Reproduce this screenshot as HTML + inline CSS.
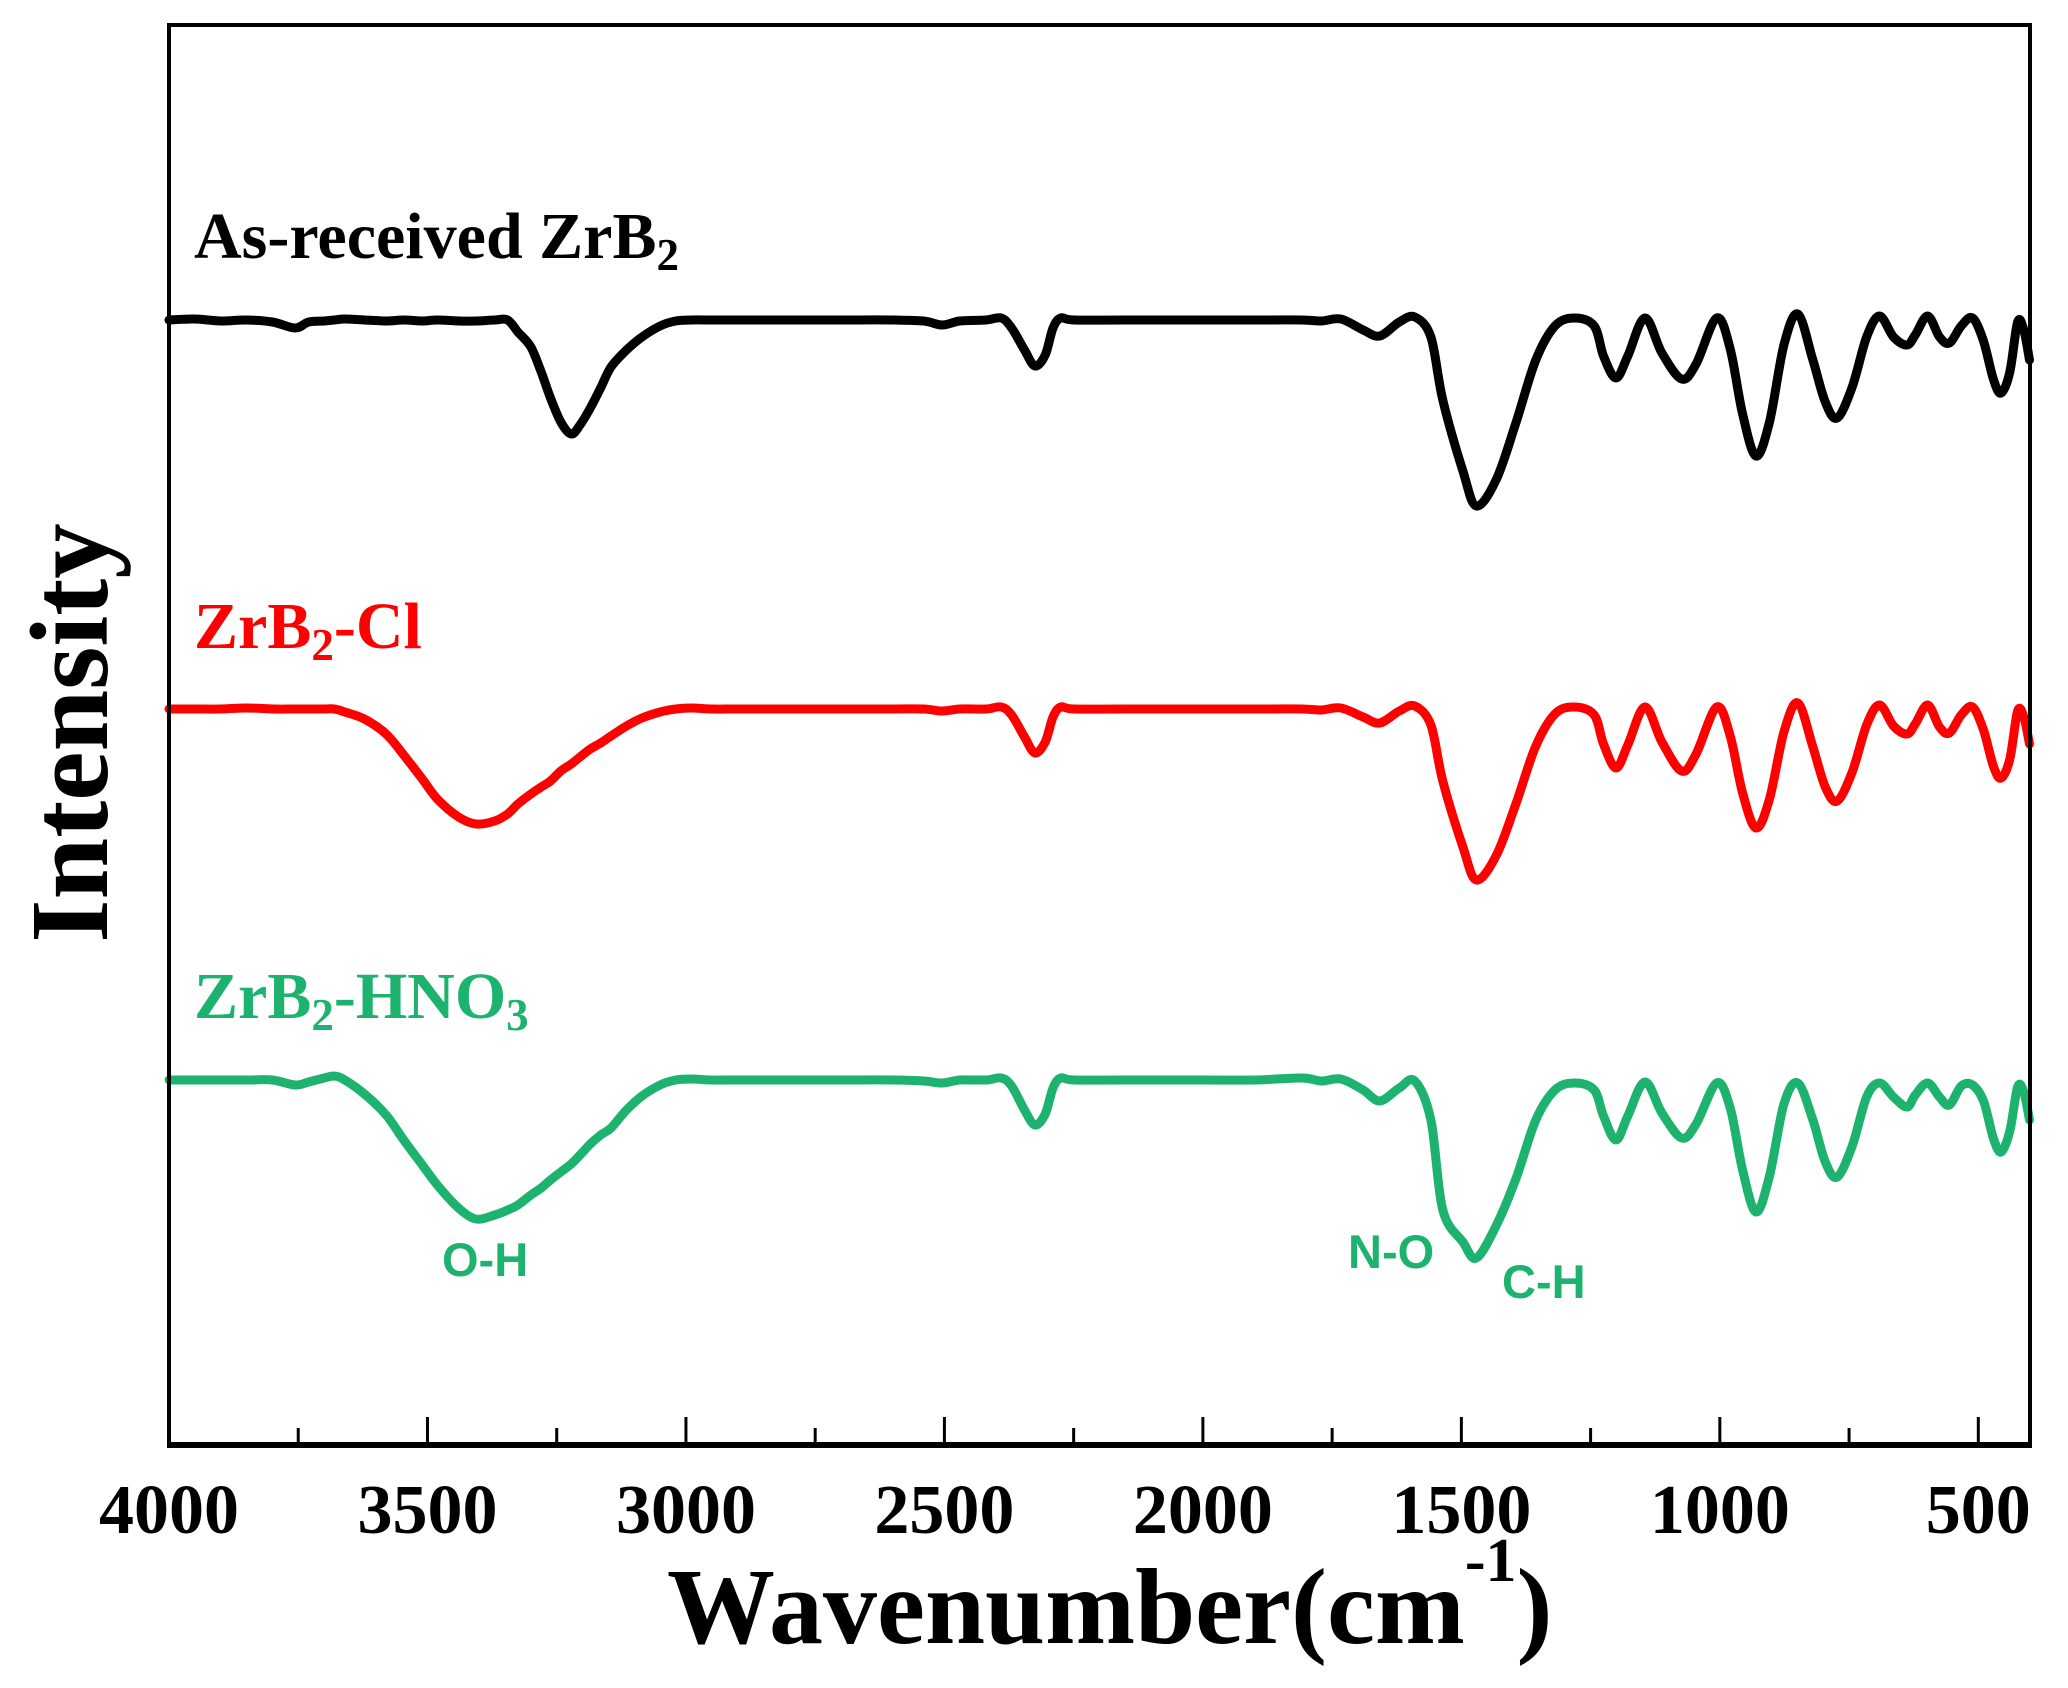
<!DOCTYPE html>
<html>
<head>
<meta charset="utf-8">
<style>
  html, body { margin: 0; padding: 0; background: #fff; }
  svg { display: block; }
  .tick-label { font-family: "Liberation Serif", serif; font-weight: bold; font-size: 70px; fill: #000; }
  .axis-title { font-family: "Liberation Serif", serif; font-weight: bold; fill: #000; }
  .series-label { font-family: "Liberation Serif", serif; font-weight: bold; font-size: 66px; }
  .band-label { font-family: "Liberation Sans", "DejaVu Sans", sans-serif; font-weight: bold; font-size: 47px; fill: #1db36e; }
</style>
</head>
<body>
<svg id="chart" width="2068" height="1688" viewBox="0 0 2068 1688" xmlns="http://www.w3.org/2000/svg">
  <g id="series-layer"></g>
  <g id="axis-layer"></g>

  <text class="series-label" x="194" y="258" fill="#000">As-received ZrB<tspan dy="12" font-size="45">2</tspan></text>
  <text class="series-label" x="194" y="648" fill="#ff0000">ZrB<tspan dy="12" font-size="45">2</tspan><tspan dy="-12">-Cl</tspan></text>
  <text class="series-label" x="194" y="1018" fill="#1db36e">ZrB<tspan dy="12" font-size="45">2</tspan><tspan dy="-12">-HNO</tspan><tspan dy="12" font-size="45">3</tspan></text>

  <text class="band-label" x="442" y="1276">O-H</text>
  <text class="band-label" x="1348" y="1268">N-O</text>
  <text class="band-label" x="1502" y="1298">C-H</text>

  <text class="axis-title" font-size="111" transform="translate(107,733) rotate(-90)" text-anchor="middle">Intensity</text>
  <text class="axis-title" font-size="108" x="667" y="1643">Wavenumber(cm<tspan font-size="62" dy="-62">-1</tspan><tspan dy="62">)</tspan></text>
</svg>
<script>
// ---- data ----
const wavenumbers = [4000,3950,3900,3850,3800,3756,3730,3700,3680,3660,3622,3580,3546,3510,3481,3440,3406,3370,3345,3325,3300,3280,3262,3242,3222,3205,3185,3165,3145,3115,3085,3050,3020,2990,2950,2900,2800,2700,2600,2540,2504,2470,2420,2390,2370,2345,2325,2305,2290,2275,2250,2150,2000,1900,1808,1771,1733,1690,1658,1620,1590,1559,1536,1497,1471,1432,1394,1356,1319,1281,1243,1225,1201,1178,1145,1112,1074,1046,1006,980,956,930,904,876,849,820,796,773,744,716,691,664,638,622,598,575,556,533,511,490,471,456,439,424,412,401];
const asReceived = [0,-1,1,0,2,8,2,1,0,-1,0,1,0,1,0,1,1,0,0,12,27,52,78,102,114,105,88,68,47,30,17,6,1,0,0,0,0,0,0,1,5,1,0,-2,8,30,46,35,8,-2,0,0,0,0,0,1,-1,10,16,2,-3,17,80,151,186,159,102,40,6,-2,6,36,58,36,-2,33,59,44,-2,29,94,136,102,25,-6,40,82,98,67,17,-4,17,25,15,-4,17,23,6,-2,21,59,73,52,2,10,40];
const zrb2Cl = [0,0,0,-1,0,0,0,0,0,3,10,25,46,70,90,108,115,112,105,95,85,78,72,62,55,48,40,34,27,17,9,3,0,-1,0,0,0,0,0,0,2,0,0,-2,6,28,44,33,8,-2,0,0,0,0,0,1,-1,8,14,2,-3,16,72,138,171,146,94,37,5,-2,6,35,59,36,-2,33,62,45,-2,27,84,119,90,23,-6,38,78,92,63,16,-4,17,25,15,-4,18,24,6,-2,21,57,69,50,2,8,35];
const zrb2Hno3 = [0,0,0,0,0,5,2,-2,-4,0,14,35,60,85,105,128,139,135,130,125,115,108,100,92,84,75,64,55,48,30,16,5,0,-1,0,0,0,0,0,1,3,0,0,-2,6,30,45,34,8,-2,0,0,0,0,-2,1,-1,10,21,8,1,40,130,162,178,145,98,40,10,3,10,36,60,36,2,33,58,44,3,28,90,132,96,24,3,40,82,97,66,17,3,17,27,15,3,17,25,6,5,21,58,72,51,7,12,40];
const tickValues = [4000,3500,3000,2500,2000,1500,1000,500];
const minorTickValues = [3750,3250,2750,2250,1750,1250,750];
const tickLabels = ["4000","3500","3000","2500","2000","1500","1000","500"];

// ---- layout ----
const NS = "http://www.w3.org/2000/svg";
const plotLeft = 169, plotRight = 2030, plotTop = 25, plotBottom = 1445;
const wnMax = 4000, wnMin = 400;
function xScale(w) { return plotLeft + (wnMax - w) * (plotRight - plotLeft) / (wnMax - wnMin); }
function yScale(v, base) { return base + v; }

function smoothPath(pts) {
  let d = "M" + pts[0][0].toFixed(1) + "," + pts[0][1].toFixed(1);
  for (let i = 0; i < pts.length - 1; i++) {
    const p0 = pts[i - 1] || pts[i], p1 = pts[i], p2 = pts[i + 1], p3 = pts[i + 2] || p2;
    const t = 6;
    const c1x = p1[0] + (p2[0] - p0[0]) / t, c1y = p1[1] + (p2[1] - p0[1]) / t;
    const c2x = p2[0] - (p3[0] - p1[0]) / t, c2y = p2[1] - (p3[1] - p1[1]) / t;
    d += " C" + c1x.toFixed(1) + "," + c1y.toFixed(1) + " " + c2x.toFixed(1) + "," + c2y.toFixed(1) + " " + p2[0].toFixed(1) + "," + p2[1].toFixed(1);
  }
  return d;
}

const seriesLayer = document.getElementById("series-layer");
function drawSeries(values, base, color, name) {
  const pts = wavenumbers.map((w, i) => [xScale(w), yScale(values[i], base)]);
  const p = document.createElementNS(NS, "path");
  p.setAttribute("d", smoothPath(pts));
  p.setAttribute("fill", "none");
  p.setAttribute("stroke", color);
  p.setAttribute("stroke-width", "9");
  p.setAttribute("stroke-linejoin", "round");
  p.setAttribute("stroke-linecap", "round");
  
  
  seriesLayer.appendChild(p);
}
drawSeries(asReceived, 320, "#000000", "line-as-received");
drawSeries(zrb2Cl, 709, "#ff0000", "line-zrb2-cl");
drawSeries(zrb2Hno3, 1080, "#1db36e", "line-zrb2-hno3");

// ---- axes ----
const axisLayer = document.getElementById("axis-layer");
const frame = document.createElementNS(NS, "rect");
frame.setAttribute("x", plotLeft); frame.setAttribute("y", plotTop);
frame.setAttribute("width", plotRight - plotLeft); frame.setAttribute("height", plotBottom - plotTop);
frame.setAttribute("fill", "none"); frame.setAttribute("stroke", "#000"); frame.setAttribute("stroke-width", "4");


axisLayer.appendChild(frame);

const xAxisLine = document.createElementNS(NS, "line");
xAxisLine.setAttribute("x1", plotLeft - 2); xAxisLine.setAttribute("x2", plotRight + 2);
xAxisLine.setAttribute("y1", plotBottom); xAxisLine.setAttribute("y2", plotBottom);
xAxisLine.setAttribute("stroke", "#000"); xAxisLine.setAttribute("stroke-width", "6");


axisLayer.appendChild(xAxisLine);

tickValues.forEach((v, i) => {
  const x = xScale(v);
  const t = document.createElementNS(NS, "line");
  t.setAttribute("x1", x); t.setAttribute("x2", x);
  t.setAttribute("y1", plotBottom); t.setAttribute("y2", plotBottom - 28);
  t.setAttribute("stroke", "#000"); t.setAttribute("stroke-width", "3");
  
  
  axisLayer.appendChild(t);
  const lb = document.createElementNS(NS, "text");
  lb.setAttribute("x", x); lb.setAttribute("y", 1533);
  lb.setAttribute("text-anchor", "middle");
  lb.setAttribute("class", "tick-label");
  lb.textContent = tickLabels[i];
  
  
  axisLayer.appendChild(lb);
});
minorTickValues.forEach(v => {
  const x = xScale(v);
  const t = document.createElementNS(NS, "line");
  t.setAttribute("x1", x); t.setAttribute("x2", x);
  t.setAttribute("y1", plotBottom); t.setAttribute("y2", plotBottom - 17);
  t.setAttribute("stroke", "#000"); t.setAttribute("stroke-width", "3");
  
  
  axisLayer.appendChild(t);
});
</script>
</body>
</html>
